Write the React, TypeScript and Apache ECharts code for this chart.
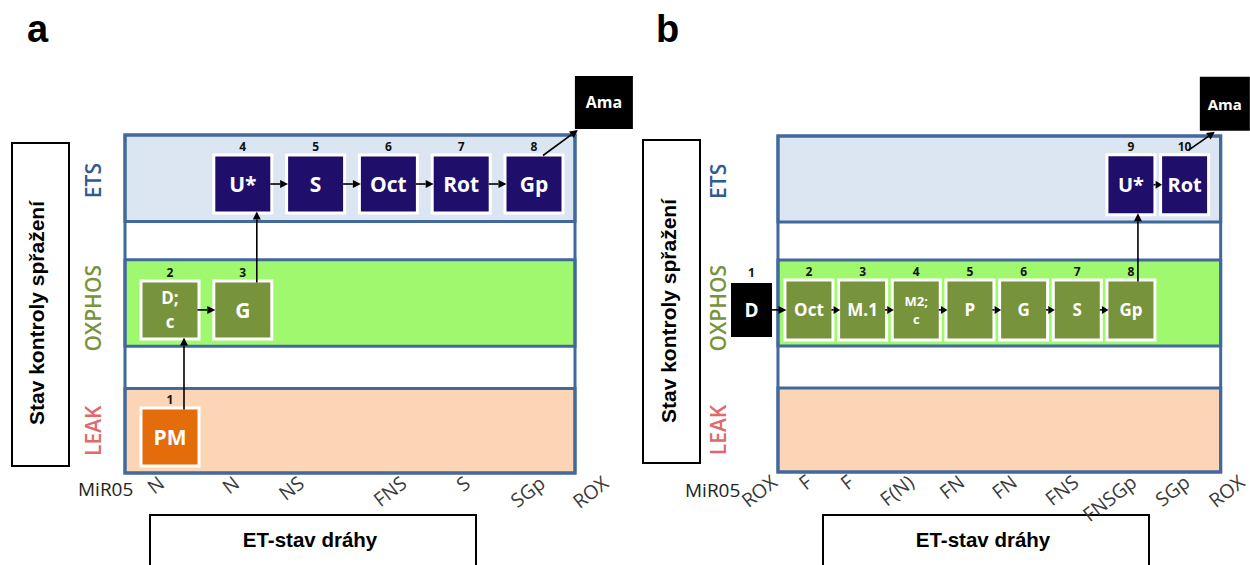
import React, { useEffect, useRef } from 'react';
import * as echarts from 'echarts';

// Coupling-control states, bottom to top (row units on the y axis)
const bandNames = ['LEAK', 'OXPHOS', 'ETS'];
const bandLow = [0, 3, 5.95];
const bandHigh = [2, 5.05, 8];
const bandLabelAt = [1, 3.9, 6.92];
const rowCenter: Record<string, number> = { LEAK: 0.85, OXPHOS: 3.86, ETS: 6.84, TOP: 8.77 };

// Panel a: titration steps
const stepsA = ['PM', 'D;\nc', 'G', 'U*', 'S', 'Oct', 'Rot', 'Gp', 'Ama'];
const stepColA = [0, 0, 1, 1, 2, 3, 4, 5, 5.96];
const stepRowA = ['LEAK', 'OXPHOS', 'OXPHOS', 'ETS', 'ETS', 'ETS', 'ETS', 'ETS', 'TOP'];
const stepNumA = ['1', '2', '3', '4', '5', '6', '7', '8', ''];
const stepKindA = ['leak', 'oxphos', 'oxphos', 'ets', 'ets', 'ets', 'ets', 'ets', 'black'];
const arrowsA = [[0, 1], [1, 2], [2, 3], [3, 4], [4, 5], [5, 6], [6, 7], [7, 8]];
const pathwayA = ['N', 'N', 'NS', 'FNS', 'S', 'SGp', 'ROX'];
const pathwayAtA = [-0.12, 0.91, 1.8, 3.21, 4.08, 5.11, 5.98];

// Panel b: titration steps
const stepsB = ['D', 'Oct', 'M.1', 'M2;\nc', 'P', 'G', 'S', 'Gp', 'U*', 'Rot', 'Ama'];
const stepColB = [-0.07, 1, 2, 3, 4, 5, 6, 7, 7, 8, 8.75];
const stepRowB = ['OXPHOS', 'OXPHOS', 'OXPHOS', 'OXPHOS', 'OXPHOS', 'OXPHOS', 'OXPHOS', 'OXPHOS', 'ETS', 'ETS', 'TOP'];
const stepNumB = ['1', '2', '3', '4', '5', '6', '7', '8', '9', '10', ''];
const stepKindB = ['black', 'oxphos', 'oxphos', 'oxphos', 'oxphos', 'oxphos', 'oxphos', 'oxphos', 'ets', 'ets', 'black'];
const arrowsB = [[0, 1], [1, 2], [2, 3], [3, 4], [4, 5], [5, 6], [6, 7], [7, 8], [8, 9], [9, 10]];
const pathwayB = ['ROX', 'F', 'F', 'F(N)', 'FN', 'FN', 'FNS', 'FNSGp', 'SGp', 'ROX'];
const pathwayAtB = [0.35, 1.0, 1.78, 2.9, 3.84, 4.82, 5.97, 7.05, 8.04, 9.06];

const BAND_FILL = ['#fbd5b5', '#a0f86f', '#dce6f2'];
const BAND_TEXT = ['#e06a6a', '#77933c', '#2f5a94'];
const BORDER = '#41699b';
const BOX_FILL: Record<string, string> = { leak: '#e46c0a', oxphos: '#77933c', ets: '#1f0f6a', black: '#000000' };
const BOX_FONT = '"Open Sans", "Noto Sans", sans-serif';
const ARIAL = '"Liberation Sans", Arial, sans-serif';

type Panel = {
  steps: string[]; cols: number[]; rows: string[]; nums: string[]; kinds: string[];
  arrows: number[][]; pathway: string[]; pathwayAt: number[];
  px: { gridLeft: number; gridRight: number; top: number; bottom: number; colX0: number; colW: number; frameLeft: number; frameRight: number };
  st: {
    boxW: number; boxH: number; blackW: number; blackH: number; topW: number; topH: number;
    font: number; topFont: number; fontOverrides: Record<string, number>;
    vOff: number; dStartX: number; dStartY: number; dEndX: number; bandMargin: number; head: number;
  };
};

const panelA: Panel = {
  steps: stepsA, cols: stepColA, rows: stepRowA, nums: stepNumA, kinds: stepKindA,
  arrows: arrowsA, pathway: pathwayA, pathwayAt: pathwayAtA,
  px: { gridLeft: 125, gridRight: 640, top: 135, bottom: 473, colX0: 170, colW: 72.8, frameLeft: 125, frameRight: 575 },
  st: {
    boxW: 55, boxH: 55, blackW: 41, blackH: 54, topW: 58, topH: 53,
    font: 21, topFont: 16, fontOverrides: { 'D;\nc': 17 },
    vOff: 14, dStartX: 9, dStartY: 1, dEndX: 3, bandMargin: 22, head: 8,
  },
};

const panelB: Panel = {
  steps: stepsB, cols: stepColB, rows: stepRowB, nums: stepNumB, kinds: stepKindB,
  arrows: arrowsB, pathway: pathwayB, pathwayAt: pathwayAtB,
  px: { gridLeft: 730, gridRight: 1250, top: 136, bottom: 472, colX0: 755.3, colW: 53.7, frameLeft: 778, frameRight: 1221 },
  st: {
    boxW: 45, boxH: 57, blackW: 41, blackH: 54, topW: 50, topH: 54,
    font: 17, topFont: 15, fontOverrides: { 'U*': 20, Rot: 20, 'M2;\nc': 13, D: 19 },
    vOff: 7, dStartX: 4, dStartY: 6, dEndX: 15, bandMargin: 2, head: 8,
  },
};

const toCol = (P: Panel, px: number) => (px - P.px.colX0) / P.px.colW;

function sizeOf(P: Panel, i: number) {
  if (P.rows[i] === 'TOP') return { w: P.st.topW, h: P.st.topH };
  if (P.kinds[i] === 'black') return { w: P.st.blackW, h: P.st.blackH };
  return { w: P.st.boxW, h: P.st.boxH };
}

function nearest(list: number[], v: number) {
  let best = 0;
  list.forEach((x, i) => { if (Math.abs(x - v) < Math.abs(list[best] - v)) best = i; });
  return best;
}

function buildSeries(P: Panel, idx: number) {
  const fL = toCol(P, P.px.frameLeft);
  const fR = toCol(P, P.px.frameRight);
  const bandData = bandNames.map((_, i) => [fL, bandLow[i], fR, bandHigh[i]]);
  bandData.push([fL, 0, fR, 8]);

  const bands = {
    type: 'custom', xAxisIndex: idx, yAxisIndex: idx, z: 1, silent: true,
    data: bandData, encode: { x: [0, 2], y: [1, 3] },
    renderItem: (params: any, api: any) => {
      const i = params.dataIndex;
      const tl = api.coord([api.value(0), api.value(3)]);
      const br = api.coord([api.value(2), api.value(1)]);
      return {
        type: 'rect',
        shape: { x: tl[0], y: tl[1], width: br[0] - tl[0], height: br[1] - tl[1] },
        style: { fill: i < bandNames.length ? BAND_FILL[i] : 'none', stroke: BORDER, lineWidth: 3 },
      };
    },
  };

  // arrows sit above the boxes so that short heads cross the white rims
  const arrows = {
    type: 'custom', xAxisIndex: idx, yAxisIndex: idx, z: 4, silent: true,
    data: P.arrows.map(([f, t]) => [P.cols[f], rowCenter[P.rows[f]], P.cols[t], rowCenter[P.rows[t]]]),
    encode: { x: [0, 2], y: [1, 3] },
    renderItem: (params: any, api: any) => {
      const [f, t] = P.arrows[params.dataIndex];
      const a = api.coord([api.value(0), api.value(1)]);
      const b = api.coord([api.value(2), api.value(3)]);
      const sf = sizeOf(P, f);
      const st = sizeOf(P, t);
      let x1: number, y1: number, x2: number, y2: number;
      if (P.rows[f] === P.rows[t]) {
        x1 = a[0] + sf.w / 2; y1 = a[1]; x2 = b[0] - st.w / 2; y2 = b[1];
      } else if (P.rows[t] === 'TOP') {
        x1 = a[0] + P.st.dStartX; y1 = a[1] - sf.h / 2 - P.st.dStartY;
        x2 = b[0] - st.w / 2 + P.st.dEndX; y2 = b[1] + st.h / 2 + 1;
      } else {
        x1 = a[0] + P.st.vOff; y1 = a[1] - sf.h / 2; x2 = x1; y2 = b[1] + st.h / 2;
      }
      const len = Math.hypot(x2 - x1, y2 - y1) || 1;
      const ux = (x2 - x1) / len, uy = (y2 - y1) / len;
      const L = Math.min(P.st.head, len * 0.75), H = P.st.head / 2;
      const bx = x2 - ux * L, by = y2 - uy * L;
      return {
        type: 'group',
        children: [
          { type: 'line', shape: { x1, y1, x2: bx, y2: by }, style: { stroke: '#000', lineWidth: 1.6 } },
          {
            type: 'polygon',
            shape: { points: [[x2, y2], [bx - uy * H, by + ux * H], [bx + uy * H, by - ux * H]] },
            style: { fill: '#000' },
          },
        ],
      };
    },
  };

  const boxes = {
    type: 'custom', xAxisIndex: idx, yAxisIndex: idx, z: 3, silent: true,
    data: P.cols.map((c, i) => [c, rowCenter[P.rows[i]]]),
    encode: { x: 0, y: 1 },
    renderItem: (params: any, api: any) => {
      const i = params.dataIndex;
      const [cx, cy] = api.coord([api.value(0), api.value(1)]);
      const { w, h } = sizeOf(P, i);
      const kind = P.kinds[i];
      const label = P.steps[i];
      const fs = P.st.fontOverrides[label] ?? (P.rows[i] === 'TOP' ? P.st.topFont : P.st.font);
      const children: any[] = [];
      if (kind !== 'black') {
        children.push({ type: 'rect', shape: { x: cx - w / 2 - 3, y: cy - h / 2 - 3, width: w + 6, height: h + 6 }, style: { fill: '#ffffff' } });
      }
      children.push({ type: 'rect', shape: { x: cx - w / 2, y: cy - h / 2, width: w, height: h }, style: { fill: BOX_FILL[kind] } });
      children.push({
        type: 'text',
        style: {
          text: label, x: cx, y: cy, align: 'center', verticalAlign: 'middle', fill: '#ffffff',
          fontSize: fs, fontWeight: 'bold', fontFamily: BOX_FONT, lineHeight: Math.round(fs * 1.4),
        },
      });
      if (P.nums[i]) {
        children.push({
          type: 'text',
          style: {
            text: P.nums[i], x: cx, y: cy - h / 2 - 4, align: 'center', verticalAlign: 'bottom',
            fill: '#111111', fontSize: 12, fontWeight: 'bold', fontFamily: BOX_FONT,
          },
        });
      }
      return { type: 'group', children };
    },
  };

  return [bands, boxes, arrows];
}

function axesFor(P: Panel, idx: number) {
  const xMin = toCol(P, P.px.gridLeft);
  const xMax = toCol(P, P.px.gridRight);
  const rich: Record<string, any> = {};
  bandNames.forEach((_, i) => {
    rich['b' + i] = { color: BAND_TEXT[i], fontSize: 21, fontWeight: 600, fontFamily: BOX_FONT };
  });
  const xAxis = {
    type: 'value', gridIndex: idx, min: xMin, max: xMax,
    axisLine: { show: false }, axisTick: { show: false }, splitLine: { show: false },
    axisLabel: {
      customValues: P.pathwayAt,
      formatter: (v: number) => P.pathway[nearest(P.pathwayAt, v)],
      rotate: 38, margin: 7, fontSize: 19.5, fontFamily: BOX_FONT, color: '#3a3a3a',
    },
  };
  const yAxis = {
    type: 'value', gridIndex: idx, min: 0, max: 8,
    axisLine: { show: false }, axisTick: { show: false }, splitLine: { show: false },
    axisLabel: {
      customValues: bandLabelAt,
      rotate: 90, margin: P.st.bandMargin,
      formatter: (v: number) => {
        const i = nearest(bandLabelAt, v);
        return '{b' + i + '|' + bandNames[i] + '}';
      },
      rich,
    },
  };
  return { xAxis, yAxis };
}

function sideGraphics(titleX: number, title: string, boxX: number, boxTop: number, textX: number, textY: number,
  bottomX: number, bottomW: number, mirX: number, mirY: number) {
  return [
    { type: 'text', x: titleX, y: 29, style: { text: title, fontSize: 38, fontWeight: 'bold', fontFamily: ARIAL, fill: '#000', verticalAlign: 'middle' } },
    { type: 'rect', shape: { x: boxX, y: boxTop, width: 57, height: 323 }, style: { fill: '#fff', stroke: '#000', lineWidth: 2 } },
    {
      type: 'text', x: textX, y: textY, rotation: Math.PI / 2,
      style: { text: 'Stav kontroly spřažení', align: 'center', verticalAlign: 'middle', fontSize: 21, fontWeight: 'bold', fontFamily: ARIAL, fill: '#000' },
    },
    { type: 'rect', shape: { x: bottomX, y: 515, width: bottomW, height: 80 }, style: { fill: '#fff', stroke: '#000', lineWidth: 2 } },
    {
      type: 'text', x: bottomX + bottomW / 2 - 3, y: 539,
      style: { text: 'ET-stav dráhy', align: 'center', verticalAlign: 'middle', fontSize: 20.5, fontWeight: 'bold', fontFamily: ARIAL, fill: '#000' },
    },
    {
      type: 'text', x: mirX, y: mirY,
      style: { text: 'MiR05', align: 'left', verticalAlign: 'middle', fontSize: 19, fontFamily: BOX_FONT, fill: '#222' },
    },
  ];
}

export default function App() {
  const ref = useRef<HTMLDivElement>(null);

  useEffect(() => {
    if (!ref.current) return;
    const chart = echarts.init(ref.current, undefined, { renderer: 'svg' });
    const axA = axesFor(panelA, 0);
    const axB = axesFor(panelB, 1);
    chart.setOption({
      animation: false,
      backgroundColor: '#ffffff',
      grid: [
        { left: panelA.px.gridLeft, top: panelA.px.top, width: panelA.px.gridRight - panelA.px.gridLeft, height: panelA.px.bottom - panelA.px.top },
        { left: panelB.px.gridLeft, top: panelB.px.top, width: panelB.px.gridRight - panelB.px.gridLeft, height: panelB.px.bottom - panelB.px.top },
      ],
      xAxis: [axA.xAxis, axB.xAxis],
      yAxis: [axA.yAxis, axB.yAxis],
      series: [...buildSeries(panelA, 0), ...buildSeries(panelB, 1)],
      graphic: [
        ...sideGraphics(27, 'a', 12, 143, 36, 313, 150, 326, 78, 489),
        ...sideGraphics(656, 'b', 643, 140, 668, 311, 823, 326, 685, 490),
      ],
    });
    return () => chart.dispose();
  }, []);

  return <div ref={ref} style={{ position: 'absolute', left: 0, top: 0, width: 1250, height: 565 }} />;
}
